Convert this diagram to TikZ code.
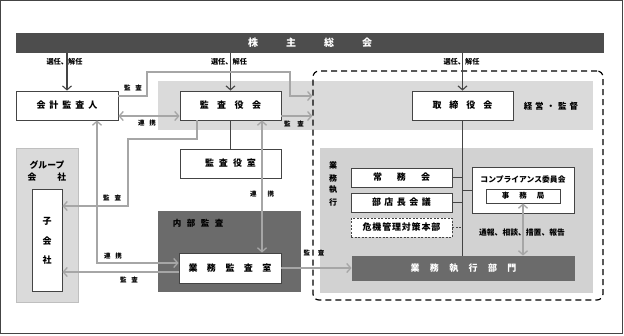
\documentclass[tikz,border=0pt]{standalone}
\usepackage{fontspec}
\setmainfont{Noto Sans CJK JP}
\usetikzlibrary{arrows.meta}
\makeatletter
\newcommand\lsp[2]{\def\lsp@gap{#1}\lsp@a#2\relax}
\def\lsp@a#1{\ifx#1\relax\else #1\expandafter\lsp@b\fi}
\def\lsp@b#1{\ifx#1\relax\else\hspace{\lsp@gap}#1\expandafter\lsp@b\fi}
\makeatother
\definecolor{barc}{HTML}{4D4D4D}
\definecolor{bandc}{HTML}{DADADA}
\definecolor{bandd}{HTML}{D2D2D2}
\definecolor{arrc}{HTML}{A6A6A6}
\definecolor{dkc}{HTML}{6B6B6B}
\definecolor{lnc}{HTML}{444444}
\tikzset{
  box/.style={draw=lnc, fill=white, line width=0.8pt, inner sep=0pt, font=\fontsize{9}{10}\selectfont\bfseries},
  lbl/.style={inner sep=0pt, font=\fontsize{6.5}{7}\selectfont\bfseries},
  garr/.style={draw=arrc, line width=1.3pt, -{Straight Barb[length=4pt,width=9pt]}},
  gdarr/.style={draw=arrc, line width=1.3pt, {Straight Barb[length=4pt,width=9pt]}-{Straight Barb[length=4pt,width=9pt]}},
  karr/.style={draw=lnc, line width=1.1pt, -{Straight Barb[length=4pt,width=9pt]}},
  kline/.style={draw=lnc, line width=0.9pt}
}
\begin{document}
\begin{tikzpicture}[x=1pt,y=-1pt]
\useasboundingbox (0,0) rectangle (624,335);
\draw[line width=1.2pt, draw=lnc] (0.6,0.6) rectangle (622.8,333.8);
% backgrounds
\fill[bandc] (158,81) rectangle (593,130);
\fill[bandd] (320,148) rectangle (593,293);
\node[draw=black, dashed, dash pattern=on 6pt off 4pt, line width=1.2pt, rounded corners=6pt, minimum width=290pt, minimum height=229pt, inner sep=0pt] (exec) at (458,185.5) {};
\node[fill=bandc, draw=lightgray, line width=0.8pt, minimum width=62pt, minimum height=154pt, inner sep=0pt] (group) at (47,225) {};
\node[fill=dkc, minimum width=143pt, minimum height=81pt, inner sep=0pt] (naibu) at (229.5,251.5) {};
% top bar
\node[fill=barc, minimum width=588pt, minimum height=20pt, inner sep=0pt, text=white, font=\fontsize{10}{11}\selectfont\bfseries] (bar) at (310,43) {\lsp{28pt}{株主総会}};
% boxes
\node[box, minimum width=102pt, minimum height=29pt] (kaikei) at (67,105.5) {\lsp{4pt}{会計監査人}};
\node[box, minimum width=101pt, minimum height=29pt] (kansa) at (230.5,105.5) {\lsp{8.5pt}{監査役会}};
\node[box, minimum width=101pt, minimum height=29pt] (tori) at (462.5,105.5) {\lsp{8pt}{取締役会}};
\node[box, minimum width=101pt, minimum height=29pt] (shitsu) at (230.5,163.5) {\lsp{5pt}{監査役室}};
\node[box, minimum width=102pt, minimum height=30pt] (gkansa) at (230,268) {\lsp{9.5pt}{業務監査室}};
\node[box, draw=none, fill=dkc, text=white, minimum width=223pt, minimum height=25pt] (dept) at (463.5,268.5) {\lsp{10.4pt}{業務執行部門}};
\node[box, minimum width=30pt, minimum height=102pt] (ko) at (47,240) {};
\node[box, minimum width=101pt, minimum height=19pt] (joumu) at (401.5,177.5) {\lsp{15pt}{常務会}};
\node[box, minimum width=101pt, minimum height=19pt] (buten) at (401.5,202.5) {\lsp{3.5pt}{部店長会議}};
\node[box, dashed, dash pattern=on 2pt off 1.5pt, minimum width=101pt, minimum height=19pt] (kiki) at (401.5,227.5) {\lsp{0.8pt}{危機管理対策本部}};
\node[box, minimum width=102pt, minimum height=46pt] (comp) at (523,190) {};
\node[lbl, font=\fontsize{7.8}{8}\selectfont\bfseries] (comptitle) at (523,179) {コンプライアンス委員会};
\node[box, minimum width=74pt, minimum height=14pt, font=\fontsize{7.5}{8}\selectfont\bfseries] (jimu) at (523,196) {\lsp{10pt}{事務局}};
% texts
\node[lbl, font=\fontsize{9}{10}\selectfont\bfseries] (ko1) at (47,221) {子};
\node[lbl, font=\fontsize{9}{10}\selectfont\bfseries] (ko2) at (47,241) {会};
\node[lbl, font=\fontsize{9}{10}\selectfont\bfseries] (ko3) at (47,260) {社};
\node[lbl, font=\fontsize{8.8}{9}\selectfont\bfseries] (grp1) at (47,165) {グループ};
\node[lbl, font=\fontsize{8.8}{9}\selectfont\bfseries] (grp2) at (47,177) {\lsp{21pt}{会社}};
\node[lbl, font=\fontsize{8.5}{9}\selectfont\bfseries] (keiei) at (551,106) {\lsp{3pt}{経営・監督}};
\node[lbl, font=\fontsize{8.5}{9}\selectfont\bfseries] (naibut) at (198,223) {\lsp{5.5pt}{内部監査}};
\node[lbl, font=\fontsize{8}{9}\selectfont\bfseries] (gs1) at (333,165) {業};
\node[lbl, font=\fontsize{8}{9}\selectfont\bfseries] (gs2) at (333,178) {務};
\node[lbl, font=\fontsize{8}{9}\selectfont\bfseries] (gs3) at (333,190) {執};
\node[lbl, font=\fontsize{8}{9}\selectfont\bfseries] (gs4) at (333,202) {行};
\node[lbl, font=\fontsize{7.8}{8}\selectfont\bfseries] (tsuho) at (522,233) {通報、相談、措置、報告};
\node[lbl, font=\fontsize{7.2}{8}\selectfont\bfseries] (sen1) at (64.5,62) {選任、解任};
\node[lbl, font=\fontsize{7.2}{8}\selectfont\bfseries] (sen2) at (229,62) {選任、解任};
\node[lbl, font=\fontsize{7.2}{8}\selectfont\bfseries] (sen3) at (461.5,62) {選任、解任};
\node[lbl] (l1) at (133,88) {\lsp{5pt}{監査}};
\node[lbl] (l2) at (147,123) {\lsp{5pt}{連携}};
\node[lbl] (l3) at (294,124) {\lsp{7pt}{監査}};
\node[lbl] (l4) at (112,198) {\lsp{5pt}{監査}};
\node[lbl] (l5) at (113,256) {\lsp{5pt}{連携}};
\node[lbl] (l6) at (129,280) {\lsp{5pt}{監査}};
\node[lbl] (l7) at (262,194) {\lsp{11pt}{連携}};
\node[lbl] (l8) at (314,253) {\lsp{8pt}{監査}};
% black connectors
\draw[karr] (bar.south -| kaikei.north) -- (kaikei.north);
\draw[karr] (bar.south -| kansa.north) -- (kansa.north);
\draw[karr] (bar.south -| tori.north) -- (tori.north);
\draw[kline] (kansa.south) -- (shitsu.north);
\draw[kline] (tori.south) -- (tori.south |- dept.north);
\draw[kline] (joumu.east) -- (joumu.east -| tori.south);
\draw[kline] (buten.east) -- (buten.east -| tori.south);
\draw[kline, dashed, dash pattern=on 2pt off 1.5pt] (kiki.east) -- (kiki.east -| tori.south);
\draw[kline] (tori.south |- comp.west) -- (comp.west);
% gray connectors
\draw[garr] (kaikei.east |- 0,96) -- (147,96) -- (147,72) -- (290,72) -- (290,96) -- (exec.west |- 0,96);
\draw[gdarr] (kaikei.east |- 0,116) -- (kansa.west |- 0,116);
\draw[garr] (kansa.east |- 0,116) -- (exec.west |- 0,116);
\draw[garr] (kansa.south -| 197,0) -- (197,139) -- (128,139) -- (128,206) -- (ko.east |- 0,206);
\draw[gdarr] (kaikei.south -| 97,0) -- (97,263) -- (gkansa.west |- 0,263);
\draw[garr] (gkansa.west |- 0,272) -- (ko.east |- 0,272);
\draw[gdarr] (kansa.south -| 262,0) -- (gkansa.north -| 262,0);
\draw[garr] (gkansa.east) -- (gkansa.east -| dept.west);
\draw[gdarr] (jimu.south) -- (jimu.south |- dept.north);
\end{tikzpicture}
\end{document}
